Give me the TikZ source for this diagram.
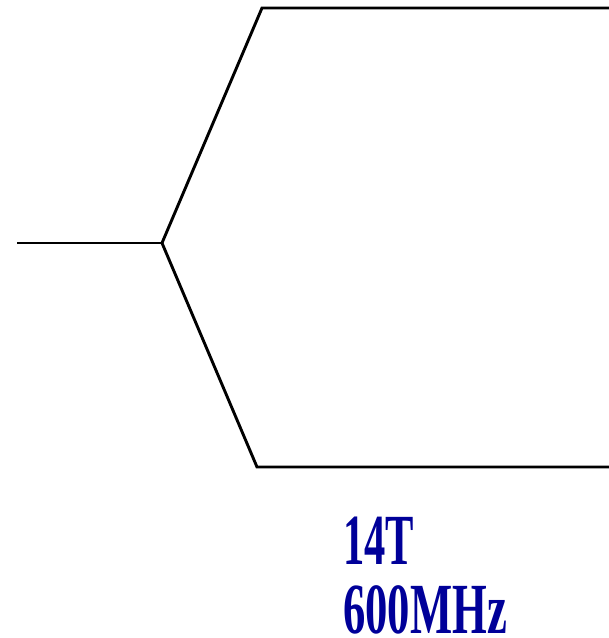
\documentclass[tikz,border=0pt]{standalone}
\usepackage{fontspec}
\setmainfont{Liberation Serif}
\definecolor{labelblue}{RGB}{0,0,153}
\begin{document}
\begin{tikzpicture}[x=1pt,y=-1pt,
  wire/.style={line width=2.9pt,line join=miter},
  lbl/.style={anchor=base west,inner sep=0pt,text depth=0pt,text=labelblue,font=\fontsize{72}{72}\selectfont\bfseries}]
\useasboundingbox (0,0) rectangle (609,638);
\coordinate (l) at (17,243);
\coordinate (j) at (162,243);
\coordinate (ut) at (262,8);
\coordinate (ur) at (612,8);
\coordinate (lt) at (257,467);
\coordinate (lr) at (612,467);
\draw[wire] (l) -- (j);
\draw[wire] (j) -- (ut) -- (ur);
\draw[wire] (j) -- (lt) -- (lr);
\node[lbl] (t1) at (343,564) {\scalebox{0.59}[1]{14T}};
\node[lbl] (t2) at (343,633) {\scalebox{0.62}[1]{600MHz}};
\end{tikzpicture}
\end{document}
